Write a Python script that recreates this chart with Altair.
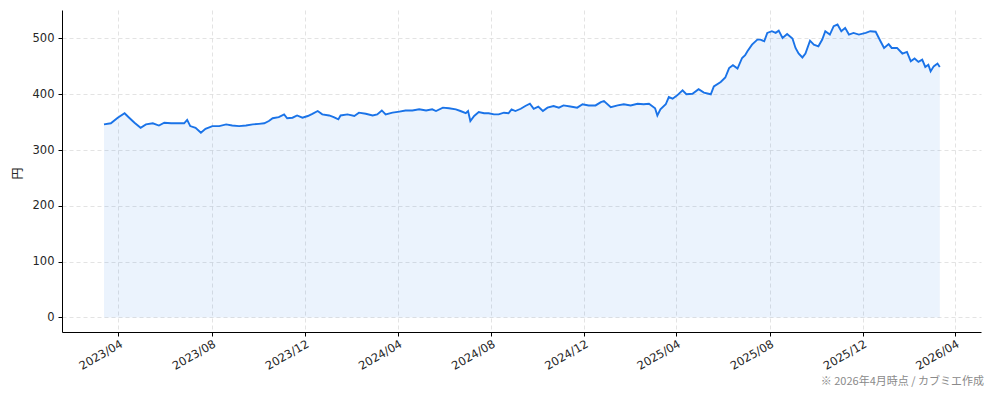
import altair as alt
import pandas as pd

# --- data ---
dates = [
    "2023-03-13", "2023-03-22", "2023-03-31",
    "2023-04-09", "2023-04-15", "2023-04-22", "2023-04-30",
    "2023-05-07", "2023-05-16", "2023-05-24", "2023-05-31",
    "2023-06-09", "2023-06-17", "2023-06-26", "2023-06-30",
    "2023-07-04", "2023-07-11", "2023-07-18", "2023-07-24",
    "2023-08-02", "2023-08-11", "2023-08-20", "2023-08-28",
    "2023-09-06", "2023-09-15", "2023-09-24",
    "2023-10-02", "2023-10-09", "2023-10-15", "2023-10-20", "2023-10-28",
    "2023-11-04", "2023-11-08", "2023-11-15", "2023-11-21", "2023-11-28",
    "2023-12-05", "2023-12-11", "2023-12-18", "2023-12-24",
    "2024-01-02", "2024-01-08", "2024-01-14", "2024-01-17", "2024-01-26",
    "2024-02-04", "2024-02-10", "2024-02-19", "2024-02-28",
    "2024-03-05", "2024-03-11", "2024-03-16", "2024-03-25",
    "2024-04-03", "2024-04-11", "2024-04-20", "2024-04-29",
    "2024-05-08", "2024-05-16", "2024-05-21", "2024-05-30",
    "2024-06-07", "2024-06-16", "2024-06-22", "2024-06-29",
    "2024-07-02", "2024-07-05", "2024-07-10", "2024-07-16", "2024-07-23", "2024-07-29",
    "2024-08-05", "2024-08-11", "2024-08-18", "2024-08-24", "2024-08-28",
    "2024-09-02", "2024-09-09", "2024-09-15", "2024-09-21", "2024-09-26",
    "2024-10-02", "2024-10-08", "2024-10-14", "2024-10-22", "2024-10-29",
    "2024-11-04", "2024-11-13", "2024-11-22", "2024-11-29",
    "2024-12-07", "2024-12-16", "2024-12-23", "2024-12-27",
    "2025-01-05", "2025-01-14", "2025-01-22", "2025-01-31",
    "2025-02-09", "2025-02-17", "2025-02-24", "2025-02-28",
    "2025-03-04", "2025-03-07", "2025-03-11", "2025-03-18", "2025-03-22", "2025-03-27",
    "2025-04-02", "2025-04-09", "2025-04-14", "2025-04-22", "2025-04-30",
    "2025-05-07", "2025-05-16", "2025-05-20", "2025-05-29",
    "2025-06-04", "2025-06-09", "2025-06-14", "2025-06-20", "2025-06-26", "2025-06-30",
    "2025-07-03", "2025-07-09", "2025-07-16", "2025-07-20", "2025-07-25", "2025-07-29",
    "2025-08-04", "2025-08-09", "2025-08-13", "2025-08-18", "2025-08-24", "2025-08-31",
    "2025-09-04", "2025-09-08", "2025-09-13", "2025-09-17", "2025-09-23", "2025-09-28",
    "2025-10-04", "2025-10-09", "2025-10-13", "2025-10-19", "2025-10-24", "2025-10-29",
    "2025-11-03", "2025-11-08", "2025-11-13", "2025-11-19", "2025-11-26",
    "2025-12-05", "2025-12-11", "2025-12-18", "2025-12-24", "2025-12-29",
    "2026-01-04", "2026-01-08", "2026-01-15", "2026-01-22", "2026-01-28",
    "2026-02-02", "2026-02-07", "2026-02-12", "2026-02-17", "2026-02-21", "2026-02-25", "2026-02-28",
    "2026-03-04", "2026-03-09", "2026-03-12",
]

prices = [
    346, 348, 358,
    366, 358, 349, 340,
    346, 348, 344, 349,
    348, 348, 348, 354,
    343, 340, 331, 338,
    343, 343, 346, 344,
    343, 344, 346,
    347, 348, 352, 357, 359,
    364, 357, 358, 362, 358,
    361, 365, 370, 364,
    362, 359, 355, 362, 364,
    361, 367, 365, 362,
    364, 371, 364, 367,
    369, 371, 371, 373,
    371, 373, 370, 376,
    375, 373, 370, 366,
    370, 352, 361, 368, 366, 366,
    364, 364, 367, 366, 373,
    370, 374, 379, 383, 374,
    378, 370, 376, 379, 376,
    380, 378, 376, 382,
    380, 380, 386, 388,
    377, 380, 382, 380,
    383, 382, 383, 379,
    375, 362, 373, 382, 395, 392,
    398, 407, 400, 401, 409,
    403, 400, 414, 422,
    430, 447, 452, 446, 465, 470,
    477, 489, 498, 498, 495, 510,
    513, 510, 514, 501, 508, 500,
    483, 473, 466, 473, 496, 489,
    486, 498, 513, 507, 522, 525,
    513, 519, 507, 510, 507,
    510, 513, 512, 496, 483,
    490, 483, 483, 473, 476,
    459, 464, 458, 462, 449, 453, 441,
    450, 455, 449,
]

y_ticks = [0, 100, 200, 300, 400, 500]
x_tick_months = [(2023, 4), (2023, 8), (2023, 12), (2024, 4), (2024, 8), (2024, 12),
                 (2025, 4), (2025, 8), (2025, 12), (2026, 4)]
y_title = "円"
footnote = "※ 2026年4月時点 / カブミエ作成"

df = pd.DataFrame({"date": [d + "T00:00:00" for d in dates], "price": prices})

FONT = "Noto Sans CJK JP"
LFONT = "DejaVu Sans"
LINE = "#1a73e8"

x_enc = alt.X(
    "date:T",
    scale=alt.Scale(domain=[alt.DateTime(year=2023, month=1, date=17),
                            alt.DateTime(year=2026, month=5, date=5)]),
    axis=alt.Axis(
        values=[alt.DateTime(year=y, month=m, date=1) for y, m in x_tick_months],
        format="%Y/%m", title=None, labelAngle=-30, labelAlign="right",
        labelBaseline="top", labelPadding=2,
    ),
)
y_enc = alt.Y(
    "price:Q",
    scale=alt.Scale(domain=[-26, 551], nice=False, zero=False),
    axis=alt.Axis(values=y_ticks, title=y_title, titleFontWeight="normal",
                  titleFontSize=12, titleX=-45, titleY=163, titleAlign="center",
                  titleBaseline="middle", labelPadding=4),
)

area = alt.Chart(df).mark_area(color=LINE, opacity=0.085, clip=True).encode(
    x=x_enc, y=y_enc, y2=alt.datum(0)
)
line = alt.Chart(df).mark_line(color=LINE, strokeWidth=1.9, clip=True).encode(
    x="date:T", y="price:Q"
)
note = alt.Chart(pd.DataFrame({"t": [footnote]})).mark_text(
    align="right", baseline="bottom", fontSize=11, color="#8a8a8a", font=FONT
).encode(x=alt.value(922), y=alt.value(377), text="t:N")

chart = (
    alt.layer(area, line, note)
    .properties(width=919, height=322, padding={"left": 54, "top": 2, "right": 5, "bottom": 57},
                autosize=alt.AutoSizeParams(type="none"))
    .configure_view(stroke=None)
    .configure_axis(
        labelFont=LFONT, titleFont=FONT, labelFontSize=11.5, labelColor="#262626",
        titleColor="#262626", domainColor="#000000", domainWidth=1,
        tickColor="#000000", tickSize=4, tickWidth=1,
        gridColor="#dcdcdc", gridDash=[4, 3], gridWidth=0.8,
    )
)

chart.save("out.html", embed_options={"renderer": "svg", "actions": False})
